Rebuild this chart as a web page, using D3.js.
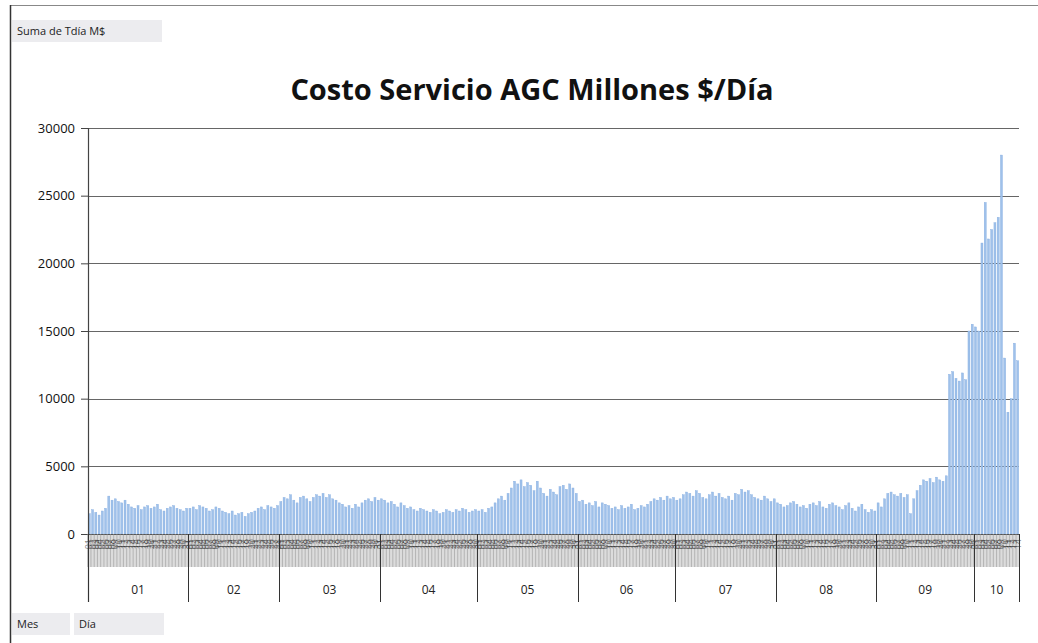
<!DOCTYPE html>
<html>
<head>
<meta charset="utf-8">
<script src="https://cdn.jsdelivr.net/npm/d3@7"></script>
<style>
  html, body { margin: 0; padding: 0; background: #fff; }
  svg { display: block; }
</style>
</head>
<body>
<svg id="chart" width="1038" height="643"></svg>
<script>
// Daily AGC service cost (millions $/day), grouped by month
const months = ["01", "02", "03", "04", "05", "06", "07", "08", "09", "10"];

const jan = [1500, 1800, 1600, 1400, 1700, 1900, 2800, 2500, 2600, 2400, 2300, 2500, 2200, 2000, 1900, 2100, 1800, 2000, 2100, 1900, 2000, 2200, 1800, 1700, 1900, 2000, 2100, 1900, 1800, 1700, 1900];
const feb = [1900, 2000, 1800, 2100, 2000, 1900, 1700, 1800, 2000, 1900, 1700, 1600, 1500, 1700, 1400, 1500, 1600, 1300, 1500, 1600, 1700, 1900, 2000, 1800, 2100, 2000, 1900, 2100];
const mar = [2400, 2700, 2600, 2900, 2500, 2300, 2700, 2800, 2600, 2400, 2700, 2900, 2800, 3000, 2700, 2900, 2600, 2500, 2300, 2200, 2000, 2100, 1900, 2200, 2000, 2300, 2500, 2600, 2400, 2700, 2500];
const apr = [2600, 2500, 2300, 2400, 2200, 2000, 2300, 2100, 1900, 2000, 1800, 1700, 1900, 1800, 1700, 1600, 1800, 1700, 1500, 1600, 1800, 1700, 1600, 1800, 1700, 1900, 1800, 1600, 1700, 1800];
const may = [1700, 1800, 1600, 1900, 2000, 2300, 2600, 2800, 2500, 3000, 3400, 3900, 3700, 4000, 3500, 3800, 3600, 3200, 3900, 3400, 3000, 2800, 3300, 3100, 2900, 3500, 3600, 3300, 3700, 3400, 3000];
const jun = [2400, 2500, 2200, 2300, 2100, 2400, 2000, 2300, 2200, 2100, 1900, 2000, 1800, 2100, 1900, 2000, 2200, 1800, 1900, 2100, 2000, 2200, 2400, 2600, 2500, 2700, 2500, 2800, 2600, 2700];
const jul = [2500, 2600, 2900, 3100, 3000, 2800, 3200, 3000, 2700, 2600, 2900, 3100, 2800, 3000, 2700, 2600, 2800, 2500, 3000, 2900, 3300, 3100, 3200, 2900, 2700, 2600, 2500, 2800, 2600, 2400, 2600];
const aug = [2300, 2200, 2000, 2100, 2300, 2400, 2200, 2000, 2100, 1900, 2200, 2300, 2100, 2400, 2000, 1900, 2200, 2300, 2100, 2000, 1800, 2100, 2300, 1900, 1700, 2000, 2200, 1800, 1600, 1800, 1700];
const sep = [2300, 2000, 2600, 3000, 3100, 2900, 2800, 3000, 2700, 2900, 1500, 2600, 3200, 3600, 4000, 3900, 4100, 3800, 4200, 4000, 3900, 4300, 11800, 12000, 11500, 11300, 11900, 11400, 15000, 15500];
const oct = [15300, 15000, 21500, 24500, 21800, 22500, 23000, 23400, 28000, 13000, 9000, 10000, 14100, 12800];

const monthValues = [jan, feb, mar, apr, may, jun, jul, aug, sep, oct];
const yTicks = [0, 5000, 10000, 15000, 20000, 25000, 30000];

const title = "Costo Servicio AGC Millones $/Día";
const valueField = "Suma de Tdía M$";
const rowFields = ["Mes", "Día"];

// Flatten into one row per day
const rows = [];
monthValues.forEach((vals, mi) => {
  vals.forEach((v, di) => {
    rows.push({ key: months[mi] + "-" + (di + 1), month: months[mi], day: String(di + 1).padStart(2, "0"), value: v });
  });
});

const svg = d3.select("#chart");
const W = 1038, H = 643;
const plot = { left: 88, right: 1019, top: 128, bottom: 534 };

const x = d3.scaleBand()
  .domain(rows.map(d => d.key))
  .range([plot.left, plot.right])
  .paddingInner(0.38)
  .paddingOuter(0.1);

const y = d3.scaleLinear()
  .domain([0, 30000])
  .range([plot.bottom, plot.top]);

const font = "'Open Sans', 'DejaVu Sans', sans-serif";

// Outer frame
svg.append("line").attr("x1", 10).attr("x2", W).attr("y1", 5.5).attr("y2", 5.5)
  .attr("stroke", "#888").attr("stroke-width", 1.2);
svg.append("line").attr("x1", 10.5).attr("x2", 10.5).attr("y1", 5).attr("y2", H)
  .attr("stroke", "#333").attr("stroke-width", 1.5);

// Pivot field buttons
function fieldButton(x0, y0, w, h, label) {
  svg.append("rect").attr("x", x0).attr("y", y0).attr("width", w).attr("height", h)
    .attr("fill", "#ececef");
  svg.append("text").attr("x", x0 + 5).attr("y", y0 + h / 2 + 4)
    .attr("font-family", font).attr("font-size", 11).attr("fill", "#222").text(label);
}
fieldButton(12, 20, 150, 22, valueField);
fieldButton(12, 613, 58, 22, rowFields[0]);
fieldButton(74, 613, 90, 22, rowFields[1]);

// Title
svg.append("text")
  .attr("x", 532).attr("y", 100)
  .attr("text-anchor", "middle")
  .attr("font-family", font).attr("font-weight", "bold").attr("font-size", 29)
  .attr("fill", "#111")
  .text(title);

// Horizontal gridlines
svg.append("g").selectAll("line").data(yTicks.filter(t => t > 0)).join("line")
  .attr("x1", plot.left).attr("x2", plot.right)
  .attr("y1", d => Math.round(y(d)) + 0.5).attr("y2", d => Math.round(y(d)) + 0.5)
  .attr("stroke", "#666").attr("stroke-width", 1.1);

// Bars
svg.append("g").selectAll("rect").data(rows).join("rect")
  .attr("x", d => x(d.key))
  .attr("width", x.bandwidth())
  .attr("y", d => y(d.value))
  .attr("height", d => y(0) - y(d.value))
  .attr("fill", "#9fc1ea")
  .attr("stroke", "#86ade0")
  .attr("stroke-width", 0.4);

// Y axis
const yAxis = d3.axisLeft(y).tickValues(yTicks).tickFormat(d3.format("d"))
  .tickSize(7).tickPadding(6).tickSizeOuter(0);
const gy = svg.append("g").attr("transform", `translate(${plot.left},0)`).call(yAxis);
gy.select(".domain").remove();
gy.selectAll(".tick line").attr("stroke", "#444");
gy.selectAll(".tick text").attr("font-family", font).attr("font-size", 13).attr("fill", "#111");
svg.append("line").attr("x1", plot.left + 0.5).attr("x2", plot.left + 0.5)
  .attr("y1", plot.top).attr("y2", 602).attr("stroke", "#444").attr("stroke-width", 1.2);

// Baseline
svg.append("line").attr("x1", plot.left).attr("x2", plot.right)
  .attr("y1", plot.bottom + 0.5).attr("y2", plot.bottom + 0.5)
  .attr("stroke", "#555").attr("stroke-width", 1.2);

// Day level of the category axis: one tick and a rotated label per day
const step = x.step();
const dayBand = svg.append("g");
dayBand.append("rect").attr("x", plot.left).attr("y", plot.bottom + 1)
  .attr("width", plot.right - plot.left).attr("height", 32).attr("fill", "#dcdcdc");
dayBand.selectAll("line").data(rows).join("line")
  .attr("x1", d => x(d.key) - step * x.paddingInner() / 2)
  .attr("x2", d => x(d.key) - step * x.paddingInner() / 2)
  .attr("y1", plot.bottom).attr("y2", plot.bottom + 33)
  .attr("stroke", "#999").attr("stroke-width", 0.6);
dayBand.selectAll("text").data(rows).join("text")
  .attr("transform", d => `translate(${x(d.key) + x.bandwidth() / 2 + 3},${plot.bottom + 5}) rotate(-90)`)
  .attr("text-anchor", "end")
  .attr("font-family", font).attr("font-size", 9)
  .attr("fill", "#222").attr("fill-opacity", 0.55)
  .text(d => d.day);

// Month level of the category axis
const monthSpans = months.map((m, i) => {
  const days = rows.filter(d => d.month === m);
  const x0 = x(days[0].key) - step * x.paddingInner() / 2;
  const x1 = x(days[days.length - 1].key) + x.bandwidth() + step * x.paddingInner() / 2;
  return { m, x0, x1 };
});
const gm = svg.append("g");
gm.selectAll("line").data(monthSpans.concat([{ x0: monthSpans[monthSpans.length - 1].x1 }])).join("line")
  .attr("x1", d => Math.round(d.x0) + 0.5).attr("x2", d => Math.round(d.x0) + 0.5)
  .attr("y1", plot.bottom).attr("y2", 602)
  .attr("stroke", "#333").attr("stroke-width", 1);
gm.selectAll("text").data(monthSpans).join("text")
  .attr("x", d => (d.x0 + d.x1) / 2).attr("y", 594)
  .attr("text-anchor", "middle")
  .attr("font-family", font).attr("font-size", 12).attr("fill", "#222")
  .text(d => d.m);
</script>
</body>
</html>
